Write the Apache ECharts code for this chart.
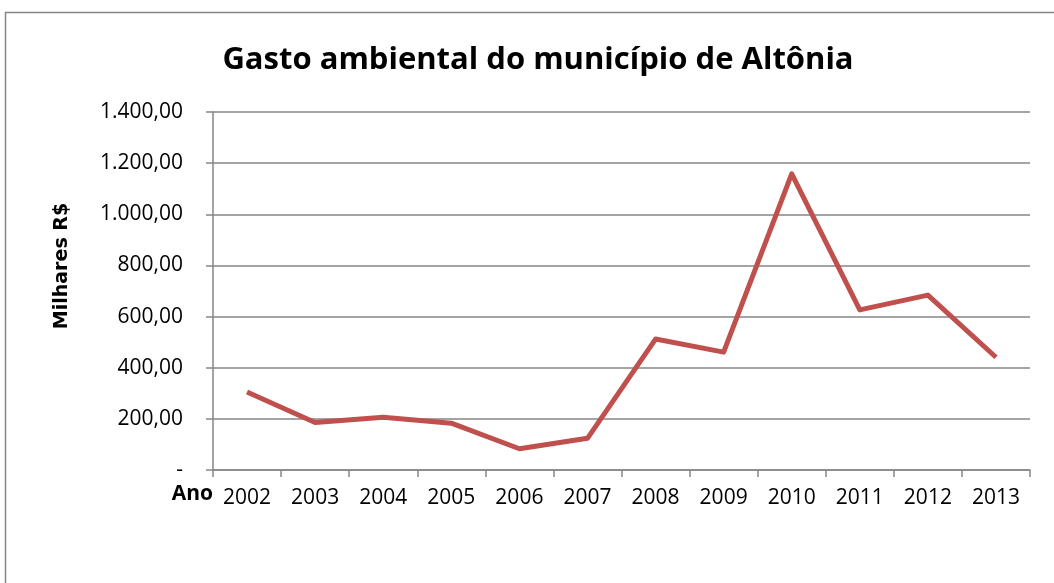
<!DOCTYPE html>
<html>
<head>
<meta charset="utf-8">
<script src="https://cdn.jsdelivr.net/npm/echarts@6/dist/echarts.min.js"></script>
<style>
	html,body{margin:0;padding:0;background:#fff;}
	#chart{width:1054px;height:583px;}
</style>
</head>
<body>
<div id="chart"></div>
<script>
var anos = ['2002','2003','2004','2005','2006','2007','2008','2009','2010','2011','2012','2013'];
var gasto = [305, 186, 206, 183, 83, 124, 512, 461, 1158, 626, 684, 441];
var yTicks = [0, 200, 400, 600, 800, 1000, 1200, 1400];

function fmtBR(v){
	if (v === 0) return '-';
	var s = Math.round(v).toString();
	s = s.replace(/\B(?=(\d{3})+(?!\d))/g, '.');
	return s + ',00';
}

var chart = echarts.init(document.getElementById('chart'));
var option = {
	animation: false,
	title: {
		text: 'Gasto ambiental do município de Altônia',
		left: 533,
		textAlign: 'center',
		top: 40,
		textStyle: {fontFamily: 'Open Sans', fontWeight: 'bold', fontSize: 31, color: '#000'}
	},
	graphic: [
		{type: 'rect', shape: {x: 5.5, y: 12.5, width: 1100, height: 700},
			style: {fill: 'none', stroke: '#868686', lineWidth: 1.5}, silent: true},
		{type: 'text', x: 62, y: 266, rotation: Math.PI / 2,
			style: {text: 'Milhares R$', font: 'bold 19px "DejaVu Sans"', fill: '#000',
				align: 'center', verticalAlign: 'middle'}},
		{type: 'text', x: 213, y: 494,
			style: {text: 'Ano', font: 'bold 21px "Open Sans"', fill: '#000',
				align: 'right', verticalAlign: 'middle'}}
	],
	grid: {left: 213, right: 24, top: 112, bottom: 113},
	xAxis: {
		type: 'category',
		data: anos,
		boundaryGap: true,
		axisLine: {lineStyle: {color: '#868686', width: 1.5}},
		axisTick: {show: true, length: 7, lineStyle: {color: '#868686', width: 1.5}},
		axisLabel: {color: '#000', fontFamily: 'Open Sans', fontSize: 21, margin: 18}
	},
	yAxis: {
		type: 'value',
		min: yTicks[0],
		max: yTicks[yTicks.length - 1],
		interval: 200,
		axisLine: {show: true, lineStyle: {color: '#868686', width: 1.5}},
		axisTick: {show: true, inside: false, length: 7, lineStyle: {color: '#868686', width: 1.5}},
		splitLine: {lineStyle: {color: '#868686', width: 1.5}},
		axisLabel: {color: '#000', fontFamily: 'Open Sans', fontSize: 21, margin: 30,
			formatter: fmtBR}
	},
	series: [{
		type: 'line',
		data: gasto,
		symbol: 'none',
		lineStyle: {color: '#C0504D', width: 5, join: 'round'}
	}]
};
chart.setOption(option);
</script>
</body>
</html>
